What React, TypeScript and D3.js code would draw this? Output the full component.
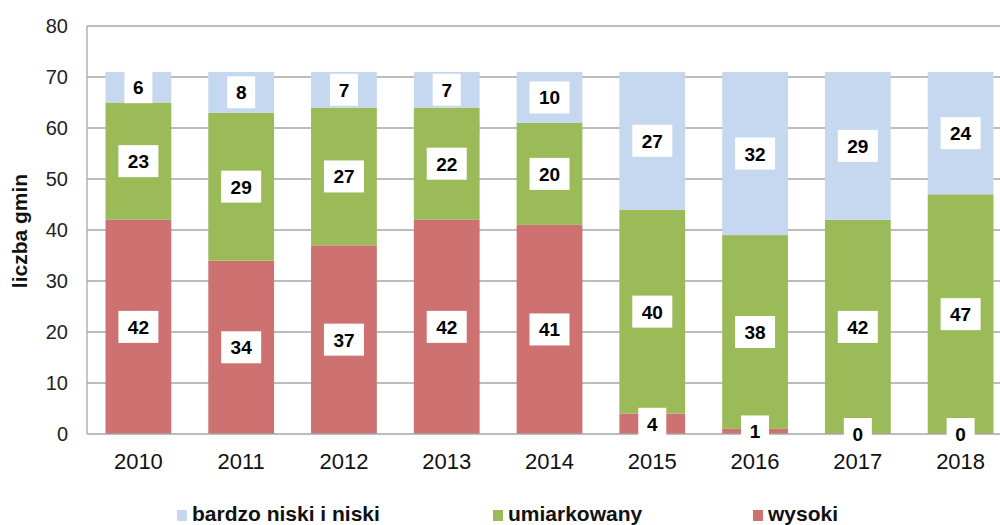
import React, { useEffect, useRef } from "react";
import * as d3 from "d3";

const years = ["2010", "2011", "2012", "2013", "2014", "2015", "2016", "2017", "2018"];
const wysoki = [42, 34, 37, 42, 41, 4, 1, 0, 0];
const umiarkowany = [23, 29, 27, 22, 20, 40, 38, 42, 47];
const niski = [6, 8, 7, 7, 10, 27, 32, 29, 24];
const yTicks = [0, 10, 20, 30, 40, 50, 60, 70, 80];

const seriesNames = ["bardzo niski i niski", "umiarkowany", "wysoki"];
const colors: Record<string, string> = {
  wysoki: "#cd7270",
  umiarkowany: "#9bbb59",
  "bardzo niski i niski": "#c6d8f0",
};

const FONT = "Arial, Liberation Sans, sans-serif";

export default function App() {
  const ref = useRef<SVGSVGElement>(null);

  useEffect(() => {
    const w = 1000;
    const left = 87;
    const plotW = 925;
    const top = 26;
    const bottom = 434;

    const svg = d3.select(ref.current);
    svg.selectAll("*").remove();

    const x = d3.scaleBand().domain(years).range([left, left + plotW]).paddingInner(0.36).paddingOuter(0.18);
    const y = d3.scaleLinear().domain([0, 80]).range([bottom, top]);

    // gridlines
    svg.append("g")
      .selectAll("line")
      .data(yTicks.slice(1))
      .enter()
      .append("line")
      .attr("x1", left)
      .attr("x2", w)
      .attr("y1", (d) => y(d))
      .attr("y2", (d) => y(d))
      .attr("stroke", "#a6a6a6")
      .attr("stroke-width", 1.3);

    // y tick labels
    svg.append("g")
      .selectAll("text")
      .data(yTicks)
      .enter()
      .append("text")
      .attr("x", 68)
      .attr("y", (d) => y(d) + 7)
      .attr("text-anchor", "end")
      .attr("font-family", FONT)
      .attr("font-size", 20)
      .attr("fill", "#222")
      .text((d) => d);

    const rows = years.map((yr, i) => ({
      year: yr,
      wysoki: wysoki[i],
      umiarkowany: umiarkowany[i],
      "bardzo niski i niski": niski[i],
    }));
    const stack = d3.stack<any>().keys(["wysoki", "umiarkowany", "bardzo niski i niski"]);
    const layers = stack(rows);

    layers.forEach((layer) => {
      svg.append("g")
        .selectAll("rect")
        .data(layer)
        .enter()
        .append("rect")
        .attr("x", (d: any) => x(d.data.year)!)
        .attr("width", x.bandwidth())
        .attr("y", (d) => y(d[1]))
        .attr("height", (d) => y(d[0]) - y(d[1]))
        .attr("fill", colors[layer.key]);
    });

    // axes lines
    svg.append("line")
      .attr("x1", left).attr("x2", left)
      .attr("y1", top).attr("y2", bottom)
      .attr("stroke", "#a6a6a6").attr("stroke-width", 1.3);
    svg.append("line")
      .attr("x1", left).attr("x2", w)
      .attr("y1", bottom).attr("y2", bottom)
      .attr("stroke", "#a6a6a6").attr("stroke-width", 1.3);

    // data labels
    layers.forEach((layer) => {
      const g = svg.append("g")
        .selectAll("g")
        .data(layer)
        .enter()
        .append("g")
        .attr("transform", (d: any) =>
          `translate(${x(d.data.year)! + x.bandwidth() / 2},${y((d[0] + d[1]) / 2)})`);
      g.append("rect")
        .attr("x", (d) => (String(d[1] - d[0]).length > 1 ? -20 : -14))
        .attr("y", -16)
        .attr("width", (d) => (String(d[1] - d[0]).length > 1 ? 40 : 28))
        .attr("height", 32)
        .attr("fill", "#fff");
      g.append("text")
        .attr("text-anchor", "middle")
        .attr("y", 7)
        .attr("font-family", FONT)
        .attr("font-weight", "bold")
        .attr("font-size", 19)
        .attr("fill", "#000")
        .text((d) => d[1] - d[0]);
    });

    // x labels
    svg.append("g")
      .selectAll("text")
      .data(years)
      .enter()
      .append("text")
      .attr("x", (d) => x(d)! + x.bandwidth() / 2)
      .attr("y", 469)
      .attr("text-anchor", "middle")
      .attr("font-family", FONT)
      .attr("font-size", 22)
      .attr("fill", "#111")
      .text((d) => d);

    // y title
    svg.append("text")
      .attr("transform", `translate(27,231) rotate(-90)`)
      .attr("text-anchor", "middle")
      .attr("font-family", FONT)
      .attr("font-weight", "bold")
      .attr("font-size", 21)
      .attr("fill", "#111")
      .text("liczba gmin");

    // legend
    const legendX = [177, 493, 753];
    const lg = svg.append("g")
      .selectAll("g")
      .data(seriesNames)
      .enter()
      .append("g")
      .attr("transform", (d, i) => `translate(${legendX[i]},521)`);
    lg.append("rect")
      .attr("x", 0).attr("y", -11)
      .attr("width", 10).attr("height", 11)
      .attr("fill", (d) => colors[d]);
    lg.append("text")
      .attr("x", 15)
      .attr("y", 0)
      .attr("font-family", FONT)
      .attr("font-weight", "bold")
      .attr("font-size", 21)
      .attr("fill", "#111")
      .text((d) => d);
  }, []);

  return (
    <svg
      ref={ref}
      width={1000}
      height={525}
      style={{ position: "absolute", left: 0, top: 0, background: "#fff" }}
    />
  );
}
